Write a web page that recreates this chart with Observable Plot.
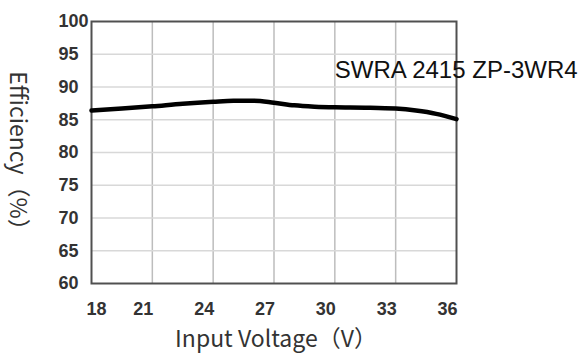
<!DOCTYPE html>
<html>
<head>
<meta charset="utf-8">
<script src="https://cdn.jsdelivr.net/npm/d3@7"></script>
<script src="https://cdn.jsdelivr.net/npm/@observablehq/plot@0.6"></script>
<style>
  html, body { margin: 0; padding: 0; background: #fff; }
</style>
</head>
<body>
<div id="chart"></div>
<script>
const voltage = [18, 19.5, 21, 22.5, 24, 25, 26, 27, 28, 29, 30, 31.5, 33, 34, 35, 36];
const efficiency = [86.4, 86.7, 87.05, 87.45, 87.75, 87.9, 87.9, 87.6, 87.2, 87.0, 86.9, 86.85, 86.7, 86.4, 85.9, 85.1];
const xTicks = [18, 21, 24, 27, 30, 33, 36];
const yTicks = [60, 65, 70, 75, 80, 85, 90, 95, 100];
const noteText = ["SWRA 2415 ZP-3WR4"];
const noteX = [30];
const noteY = [92.5];
const xTitle = "Input Voltage（V）";
const yTitle = "Efficiency（%）";

const rows = voltage.map((v, i) => ({v, e: efficiency[i]}));
const tickStyle = {tickSize: 0, fontSize: 18, fontWeight: "bold", fill: "#333", label: null, fontFamily: "Liberation Sans, Arial, sans-serif"};

const chart = Plot.plot({
  width: 582,
  height: 354,
  marginLeft: 91,
  marginRight: 126,
  marginTop: 21,
  marginBottom: 71,
  x: {domain: [18, 36]},
  y: {domain: [60, 100]},
  style: {background: "white", fontFamily: "Liberation Sans, Arial, sans-serif"},
  marks: [
    Plot.gridX(xTicks.slice(1, -1), {stroke: "#bdbdbd", strokeOpacity: 1, strokeWidth: 1.5}),
    Plot.gridY(yTicks.slice(1, -1), {stroke: "#d8d8d8", strokeOpacity: 1, strokeWidth: 1.5}),
    Plot.frame({stroke: "#505050", strokeWidth: 2}),
    Plot.line(rows, {x: "v", y: "e", curve: "monotone-x", stroke: "black", strokeWidth: 4.5}),
    Plot.axisX(xTicks.slice(0, 1), {...tickStyle, tickPadding: 19, dx: 5}),
    Plot.axisX(xTicks.slice(1), {...tickStyle, tickPadding: 19, dx: -9}),
    Plot.axisY(yTicks, {...tickStyle, tickPadding: 33, textAnchor: "start"}),
    Plot.text(noteText, {x: noteX, y: noteY, text: d => d, textAnchor: "start", lineAnchor: "middle", fontSize: 24, fill: "#111", fontFamily: "Liberation Sans, Arial, sans-serif"}),
    Plot.text([xTitle], {frameAnchor: "bottom", text: d => d, textAnchor: "middle", lineAnchor: "middle", dy: 56, dx: 2, fontSize: 23, fill: "#333", fontFamily: "Noto Sans CJK SC, sans-serif"}),
    Plot.text([yTitle], {frameAnchor: "left", text: d => d, textAnchor: "middle", lineAnchor: "middle", dx: -74, dy: 4, rotate: 90, fontSize: 23, fill: "#333", fontFamily: "Noto Sans CJK SC, sans-serif"})
  ]
});
document.getElementById("chart").appendChild(chart);
</script>
</body>
</html>
